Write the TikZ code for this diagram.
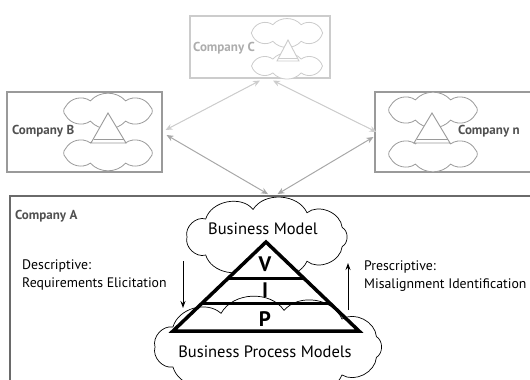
\documentclass[tikz,border=0pt]{standalone}
\usepackage{fontspec}
\setmainfont{PT Sans}
\usetikzlibrary{arrows.meta}
\definecolor{boxgray}{HTML}{9A9A9A}
\definecolor{lightgray}{HTML}{CCCCCC}
\definecolor{darkgray}{HTML}{6A6A6A}
\definecolor{textgray}{HTML}{505050}
\definecolor{linkgray}{HTML}{A8A8A8}
\definecolor{linklight}{HTML}{CDCDCD}
% cloud outline: [style]{cx}{cy}{rx}{ry}{puffs}{bend}
\newcommand\cloudshape[7][]{%
  \draw[#1] ({#2+#4*cos(180/#6)},{#3+#5*sin(180/#6)})
    \foreach \k in {1,...,#6} {
      to[bend left=#7] ({#2+#4*cos(360*(\k+0.5)/#6)},{#3+#5*sin(360*(\k+0.5)/#6)})
    };}
\begin{document}
\begin{tikzpicture}[x=1pt,y=-1pt,
  cl/.style={line width=0.7pt, fill=white},
  smallcl/.style={line width=0.8pt, fill=white},
  cobox/.style={draw, rectangle, inner sep=0pt, line width=1.1pt},
  coname/.style={font=\fontsize{13}{15}\selectfont\bfseries, text=textgray, inner sep=0pt},
  desc/.style={font=\fontsize{13.8}{18}\selectfont, align=left, inner sep=0pt, anchor=west},
  cltext/.style={font=\fontsize{16.5}{19}\selectfont, inner sep=0pt},
  letter/.style={font=\fontsize{21}{24}\selectfont\bfseries, inner sep=0pt},
  link/.style={{Stealth[length=7pt,width=6pt]}-{Stealth[length=7pt,width=6pt]}, line width=1pt},
  flow/.style={-{Stealth[length=7pt,width=5pt]}, line width=1pt},
  tri/.style={line width=3.5pt, line join=miter},
  smalltri/.style={fill=white, line width=0.9pt}
]
\useasboundingbox (0,0) rectangle (530,380);
\clip (0,0) rectangle (530,380);

% ---- Company C ----
\node[cobox, draw=lightgray, minimum width=140pt, minimum height=62pt] (C) at (260,47) {};
\cloudshape[smallcl, draw=lightgray]{287}{33}{37}{9}{8}{48}
\cloudshape[smallcl, draw=lightgray]{287}{66}{37}{7.5}{8}{48}
\draw[smalltri, draw=lightgray] (288,40) -- (299,61) -- (277,61) -- cycle;
\draw[draw=lightgray, line width=0.9pt] (278.5,58) -- (297.5,58);
\node[coname, text=lightgray!85!black, anchor=west] (Cn) at (193,48) {Company C};

% ---- Company B ----
\node[cobox, draw=boxgray, minimum width=155pt, minimum height=80pt] (B) at (84.5,132) {};
\cloudshape[smallcl, draw=boxgray]{108}{111}{46}{11}{8}{48}
\cloudshape[smallcl, draw=boxgray]{108}{153}{46}{11}{8}{48}
\draw[smalltri, draw=boxgray] (108,113) -- (126,143) -- (91,143) -- cycle;
\draw[draw=boxgray, line width=0.9pt] (93.5,139) -- (123.5,139);
\node[coname, anchor=west] (Bn) at (12,131) {Company B};

% ---- Company n ----
\node[cobox, draw=boxgray, minimum width=170pt, minimum height=80pt] (N) at (460,132) {};
\cloudshape[smallcl, draw=boxgray]{433}{110}{46}{11}{8}{48}
\cloudshape[smallcl, draw=boxgray]{433}{154}{46}{11}{8}{48}
\draw[smalltri, draw=boxgray] (432,113) -- (450,143) -- (414,143) -- cycle;
\draw[draw=boxgray, line width=0.9pt] (416.5,139) -- (447.5,139);
\node[coname, anchor=west] (Nn) at (458,131) {Company n};

% ---- Company A ----
\node[cobox, draw=darkgray, line width=1.8pt, minimum width=535pt, minimum height=200pt] (A) at (277.5,296) {};
\node[coname, anchor=west] (An) at (15,216) {Company A};

% ---- links ----
\draw[link, draw=linklight, fill=linkgray] ([yshift=-2pt]C.south) -- ([xshift=3pt,yshift=2pt]B.east);
\draw[link, draw=linklight, fill=linkgray] ([xshift=13pt,yshift=-2pt]C.south) -- ([xshift=2pt]N.west);
\draw[link, draw=linkgray] ([xshift=4pt,yshift=-3pt]B.east) -- ([xshift=-9.5pt,yshift=1pt]A.north);
\draw[link, draw=linkgray] ([xshift=-1pt,yshift=-5pt]N.west) -- ([xshift=0pt,yshift=1pt]A.north);

% ---- Business Model / Process clouds and pyramid ----
\cloudshape[cl]{267}{237}{80}{28}{9}{62}
\node[cltext] (bmt) at (263,229) {Business Model};
\fill[white] (266,242) -- (359,331) -- (173,331) -- cycle;
\cloudshape[cl, fill=none]{268}{347}{113}{37}{11}{58}
\node[cltext] (bpmt) at (265,352) {Business Process Models};
\draw[tri] (266,242) -- (359,331) -- (173,331) -- cycle;
\draw[tri, line width=3pt] (228.4,278) -- (303.6,278);
\draw[tri, line width=3pt] (202.2,303) -- (329.8,303);
\node[letter] (V) at (265,264) {V};
\node[letter] (I) at (265,290) {I};
\node[letter] (P) at (265,319) {P};

% ---- descriptive / prescriptive ----
\coordinate (d1) at (183,261);
\coordinate (d2) at (183,308);
\coordinate (p1) at (348,310);
\coordinate (p2) at (348,263);
\draw[flow] (d1) -- (d2);
\draw[flow] (p1) -- (p2);
\node[desc] (dt) at (22,275) {Descriptive:\\Requirements Elicitation};
\node[desc] (pt) at (364,276) {Prescriptive:\\Misalignment Identification};
\end{tikzpicture}
\end{document}
